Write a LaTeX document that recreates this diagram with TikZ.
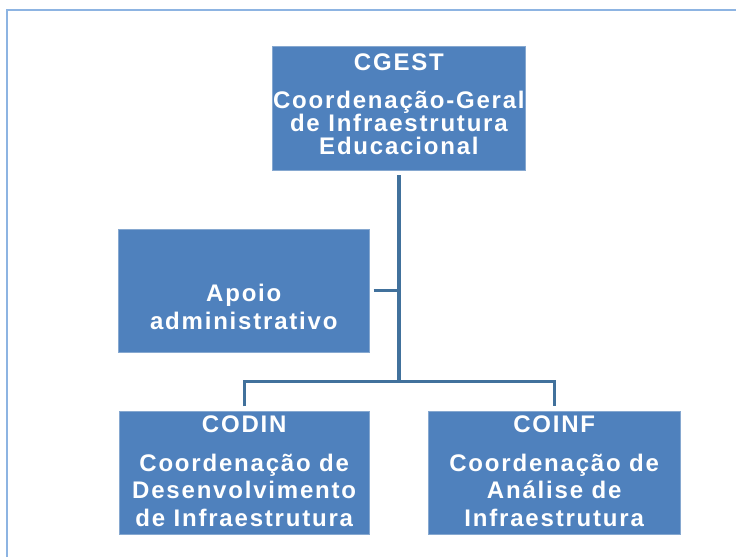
\documentclass[tikz,border=0pt]{standalone}
\usepackage{fontspec}
\setmainfont{Liberation Sans}
\newfontfamily\widefont{Liberation Sans}[LetterSpace=7.5]
\definecolor{boxfill}{HTML}{4F81BD}
\definecolor{boxedge}{HTML}{86A8D0}
\definecolor{linkcol}{HTML}{41719C}
\definecolor{framecol}{HTML}{8DB4E2}
\begin{document}
\begin{tikzpicture}[x=1pt,y=-1pt,
  orgbox/.style={draw=boxedge, line width=0.8pt, fill=boxfill, inner sep=0pt},
  boxtext/.style={text=white, align=center, inner sep=0pt, anchor=north},
  link/.style={draw=linkcol, line width=3.3pt}]
\useasboundingbox (0,0) rectangle (736,557);
% frame
\draw[framecol, line width=2pt] (6.7,557) -- (6.7,10) -- (736,10);
% boxes
\node[orgbox, minimum width=252.3pt, minimum height=123.3pt] (cgest) at (398.9,108.4) {};
\node[orgbox, minimum width=251pt, minimum height=123.3pt] (apoio) at (243.8,290.7) {};
\node[orgbox, minimum width=250.5pt, minimum height=122.3pt] (codin) at (244.2,472.9) {};
\node[orgbox, minimum width=251.5pt, minimum height=122.3pt] (coinf) at (554.2,472.9) {};
% texts
\node[boxtext, font=\widefont\bfseries\fontsize{24}{23}\selectfont] (cgestt) at ([yshift=-6.8pt]cgest.north)
  {CGEST\\[15.3pt]Coordenação-Geral\\de Infraestrutura\\Educacional};
\node[boxtext, font=\widefont\bfseries\fontsize{24}{28}\selectfont] (apoiot) at ([yshift=-55.5pt]apoio.north)
  {Apoio\\administrativo};
\node[boxtext, font=\widefont\bfseries\fontsize{24}{27.5}\selectfont] (codint) at ([yshift=-4.5pt]codin.north)
  {CODIN\\[10.9pt]Coordenação de\\Desenvolvimento\\de Infraestrutura};
\node[boxtext, font=\widefont\bfseries\fontsize{24}{27.5}\selectfont] (coinft) at ([yshift=-4.5pt]coinf.north)
  {COINF\\[10.9pt]Coordenação de\\Análise de\\Infraestrutura};
% connectors
\coordinate (busmid) at (cgest.south |- 0,381.5);
\coordinate (busL) at (codin.north |- busmid);
\coordinate (busR) at (coinf.north |- busmid);
\coordinate (stub) at (apoio.east -| cgest.south);
\draw[link] ([yshift=-5pt]cgest.south) -- (busmid);
\draw[link] ([xshift=4pt]apoio.east) -- (stub);
\draw[link] ([yshift=5pt]codin.north) -- (busL) -- (busR) -- ([yshift=5pt]coinf.north);
\end{tikzpicture}
\end{document}
